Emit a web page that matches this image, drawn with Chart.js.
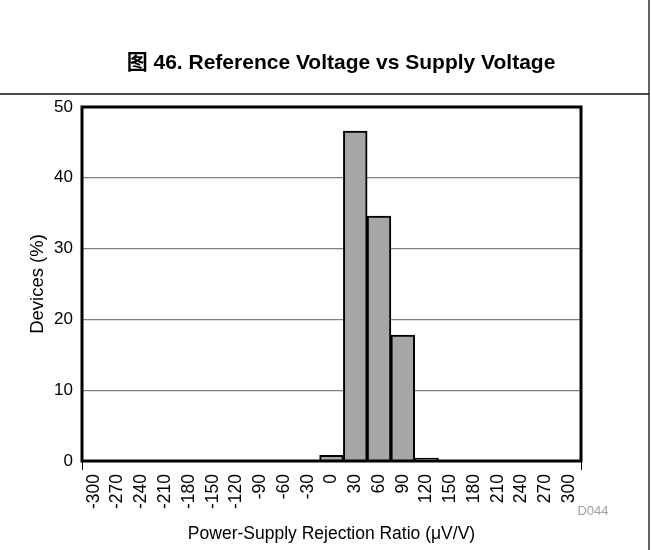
<!DOCTYPE html>
<html>
<head>
<meta charset="utf-8">
<script src="https://cdn.jsdelivr.net/npm/chart.js@4/dist/chart.umd.min.js"></script>
<style>
  html, body { margin: 0; padding: 0; background: #fff; }
  #wrap { width: 651px; height: 550px; position: relative; }
</style>
</head>
<body>
<div id="wrap"><canvas id="psrrChart"></canvas></div>
<script>
// PSRR histogram bins (uV/V) and share of devices per bin (%)
const binLabels = ["-300", "-270", "-240", "-210", "-180", "-150", "-120", "-90", "-60", "-30",
  "0", "30", "60", "90", "120", "150", "180", "210", "240", "270", "300"];
const devicePct = [0, 0, 0, 0, 0, 0, 0, 0, 0, 0,
  0.8, 46.6, 34.6, 17.8, 0.4, 0, 0, 0, 0, 0, 0];
const yTicks = [0, 10, 20, 30, 40, 50];

const FONT = '"Liberation Sans", Arial, "Noto Sans CJK SC", sans-serif';
const FIG_TITLE = "图 46. Reference Voltage vs Supply Voltage";

// heading, frame lines, thick plot border, corner ticks and figure id
const framePlugin = {
  id: "frame",
  afterDatasetsDraw(chart) {
    const { ctx, chartArea: a } = chart;
    ctx.save();
    ctx.strokeStyle = "#000";
    ctx.lineWidth = 3;
    ctx.strokeRect(a.left, a.top, a.right - a.left, a.bottom - a.top);
    ctx.lineWidth = 1;
    ctx.beginPath();
    ctx.moveTo(a.left + 0.5, a.bottom);
    ctx.lineTo(a.left + 0.5, a.bottom + 9);
    ctx.moveTo(a.right + 0.5, a.bottom);
    ctx.lineTo(a.right + 0.5, a.bottom + 9);
    ctx.stroke();
    ctx.restore();
  },
  afterDraw(chart) {
    const { ctx } = chart;
    ctx.save();
    ctx.strokeStyle = "#111";
    ctx.lineWidth = 1.3;
    ctx.beginPath();
    ctx.moveTo(0, 94);
    ctx.lineTo(649, 94);
    ctx.moveTo(649, 0);
    ctx.lineTo(649, 550);
    ctx.stroke();

    ctx.fillStyle = "#000";
    ctx.font = "bold 21px " + FONT;
    ctx.textAlign = "center";
    ctx.textBaseline = "middle";
    ctx.fillText(FIG_TITLE, 341, 63);

    ctx.fillStyle = "#a0a0a0";
    ctx.font = "13px " + FONT;
    ctx.fillText("D044", 593, 511);
    ctx.restore();
  }
};

const ctx = document.getElementById("psrrChart").getContext("2d");
new Chart(ctx, {
  type: "bar",
  data: {
    labels: binLabels,
    datasets: [
      {
        label: "Devices (%)",
        data: devicePct,
        backgroundColor: "#a6a6a6",
        borderColor: "#000",
        borderWidth: 2,
        barPercentage: 1,
        categoryPercentage: 1,
      },
    ],
  },
  options: {
    responsive: true,
    maintainAspectRatio: false,
    animation: false,
    layout: { padding: { left: 0, right: 70, top: 107, bottom: 0 } },
    plugins: {
      legend: { display: false },
      tooltip: { enabled: false },
      title: { display: false },
    },
    scales: {
      x: {
        grid: { display: false },
        border: { display: false },
        ticks: {
          color: "#000",
          font: { family: FONT, size: 17.5 },
          minRotation: 90,
          maxRotation: 90,
          autoSkip: false,
          padding: 5,
        },
        title: {
          display: true,
          text: "Power-Supply Rejection Ratio (\u03bcV/V)",
          color: "#000",
          font: { family: FONT, size: 17.5 },
          padding: { top: 0, bottom: 5 },
        },
        afterFit(scale) { scale.height = 89; },
      },
      y: {
        min: 0,
        max: 50,
        afterBuildTicks(scale) { scale.ticks = yTicks.map((v) => ({ value: v })); },
        grid: { color: "#808080", lineWidth: 1.3, drawTicks: false },
        border: { display: false },
        ticks: {
          color: "#000",
          font: { family: FONT, size: 17 },
          padding: 9,
        },
        title: {
          display: true,
          text: "Devices (%)",
          color: "#000",
          font: { family: FONT, size: 18.5 },
          padding: { top: 27, bottom: 0 },
        },
        afterFit(scale) { scale.width = 82; },
      },
    },
  },
  plugins: [framePlugin],
});
</script>
</body>
</html>
